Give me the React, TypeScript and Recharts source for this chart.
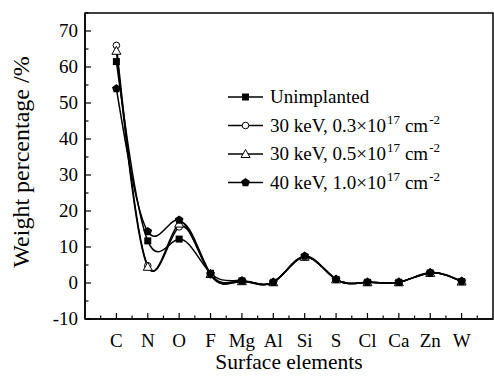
import React from 'react';
import { LineChart, Line, XAxis, YAxis, Legend, ReferenceArea } from 'recharts';

const elements = ['C', 'N', 'O', 'F', 'Mg', 'Al', 'Si', 'S', 'Cl', 'Ca', 'Zn', 'W'];
const unimplanted = [61.5, 11.7, 12.2, 2.7, 0.6, 0.2, 7.2, 1.0, 0.2, 0.2, 2.8, 0.4];
const dose03 = [66.0, 4.8, 15.6, 2.3, 0.5, 0.2, 7.3, 1.0, 0.2, 0.2, 2.8, 0.4];
const dose05 = [64.5, 4.5, 16.5, 2.5, 0.5, 0.2, 7.3, 1.0, 0.2, 0.2, 2.8, 0.4];
const dose10 = [54.0, 14.3, 17.5, 2.5, 0.6, 0.2, 7.5, 1.0, 0.2, 0.2, 2.9, 0.5];

const xTicks = [0.5, 1, 1.5, 2, 2.5, 3, 3.5, 4, 4.5, 5, 5.5, 6, 6.5, 7, 7.5, 8, 8.5, 9, 9.5, 10, 10.5, 11, 11.5, 12, 12.5];
const yTicks = [-10, -5, 0, 5, 10, 15, 20, 25, 30, 35, 40, 45, 50, 55, 60, 65, 70, 75];

const data = elements.map((el, i) => ({
  x: i + 1,
  el,
  unimplanted: unimplanted[i],
  dose03: dose03[i],
  dose05: dose05[i],
  dose10: dose10[i],
}));

const FONT = '"Liberation Serif", "Times New Roman", serif';

// marker shapes
const Square = ({ cx, cy }: any) => <rect x={cx - 3.5} y={cy - 3.5} width={7} height={7} fill="#000" />;
const OpenCircle = ({ cx, cy }: any) => <circle cx={cx} cy={cy} r={3.3} fill="#fff" stroke="#000" strokeWidth={1} />;
const OpenTriangle = ({ cx, cy }: any) => (
  <polygon points={`${cx},${cy - 4.5} ${cx - 4.5},${cy + 3.5} ${cx + 4.5},${cy + 3.5}`} fill="#fff" stroke="#000" strokeWidth={1} />
);
const Pentagon = ({ cx, cy }: any) => {
  const r = 4.6;
  const pts = [0, 1, 2, 3, 4]
    .map((k) => {
      const a = -Math.PI / 2 + (k * 2 * Math.PI) / 5;
      return `${cx + r * Math.cos(a)},${cy + r * Math.sin(a)}`;
    })
    .join(' ');
  return <polygon points={pts} fill="#000" />;
};

const XTick = ({ x, y, payload }: any) => {
  const major = Number.isInteger(payload.value);
  return (
    <g>
      <line x1={x} x2={x} y1={y} y2={y - (major ? 6 : 3.5)} stroke="#000" strokeWidth={1.2} />
      {major && (
        <text x={x} y={y + 28} textAnchor="middle" fontFamily={FONT} fontSize={19} fill="#000">
          {elements[payload.value - 1]}
        </text>
      )}
    </g>
  );
};

const YTick = ({ x, y, payload }: any) => {
  const major = payload.value % 10 === 0;
  return (
    <g>
      <line x1={x} x2={x + (major ? 6 : 3.5)} y1={y} y2={y} stroke="#000" strokeWidth={1.2} />
      {major && (
        <text x={x - 7} y={y + 6} textAnchor="end" fontFamily={FONT} fontSize={19} fill="#000">
          {payload.value}
        </text>
      )}
    </g>
  );
};

const legendRows = [
  { key: 'unimplanted', Marker: Square, main: 'Unimplanted' },
  { key: 'dose03', Marker: OpenCircle, main: '30 keV, 0.3×10', dose: true },
  { key: 'dose05', Marker: OpenTriangle, main: '30 keV, 0.5×10', dose: true },
  { key: 'dose10', Marker: Pentagon, main: '40 keV, 1.0×10', dose: true },
];

const renderLegend = () => (
  <svg width={272} height={112} style={{ display: 'block' }}>
    {legendRows.map((row, i) => {
      const cy = 13 + i * 28.5;
      const M = row.Marker;
      return (
        <g key={row.key}>
          <line x1={7} x2={42} y1={cy} y2={cy} stroke="#000" strokeWidth={1.5} />
          <M cx={24.5} cy={cy} />
          <text x={49} y={cy + 6} fontFamily={FONT} fontSize={19} fontWeight="normal" fill="#000">
            {row.main}
            {row.dose && (
              <>
                <tspan dx={1} dy={-8} fontSize={13}>17</tspan>
                <tspan dx={5} dy={8} fontSize={19}>cm</tspan>
                <tspan dx={1} dy={-8} fontSize={13}>-2</tspan>
              </>
            )}
          </text>
        </g>
      );
    })}
  </svg>
);

const App: React.FC = () => {
  return (
    <div style={{ position: 'absolute', left: 0, top: 0, background: '#fff' }}>
      <LineChart width={494} height={378} data={data} margin={{ top: 13, right: 1, bottom: 29, left: 25 }}>
        <XAxis
          dataKey="x"
          type="number"
          domain={[0, 13]}
          ticks={xTicks}
          interval={0}
          height={30}
          tickSize={0}
          tickMargin={0}
          tick={<XTick />}
          stroke="#000"
          strokeWidth={1.5}
          label={{ value: 'Surface elements', position: 'bottom', offset: 5, fontFamily: FONT, fontSize: 21.5, fill: '#000' }}
        />
        <YAxis
          type="number"
          domain={[-10, 75]}
          ticks={yTicks}
          interval={0}
          width={60}
          tickSize={0}
          tickMargin={0}
          tick={<YTick />}
          stroke="#000"
          strokeWidth={1.5}
          allowDataOverflow
          label={{
            content: () => (
              <text x={29} y={162} transform="rotate(-90 29 162)" textAnchor="middle" fontFamily={FONT} fontSize={24} fill="#000">
                Weight percentage /%
              </text>
            ),
          }}
        />
        <ReferenceArea x1={0} x2={13} y1={-10} y2={75} fill="none" stroke="#000" strokeWidth={1.5} ifOverflow="visible" />
        <Legend content={renderLegend} layout="vertical" align="center" verticalAlign="middle" wrapperStyle={{ position: 'absolute', left: 221, top: 84, width: 272 }} />
        <Line type="natural" dataKey="unimplanted" stroke="#000" strokeWidth={1.5} dot={<Square />} isAnimationActive={false} />
        <Line type="natural" dataKey="dose03" stroke="#000" strokeWidth={1.5} dot={<OpenCircle />} isAnimationActive={false} />
        <Line type="natural" dataKey="dose05" stroke="#000" strokeWidth={1.5} dot={<OpenTriangle />} isAnimationActive={false} />
        <Line type="natural" dataKey="dose10" stroke="#000" strokeWidth={1.5} dot={<Pentagon />} isAnimationActive={false} />
      </LineChart>
    </div>
  );
};

export default App;
